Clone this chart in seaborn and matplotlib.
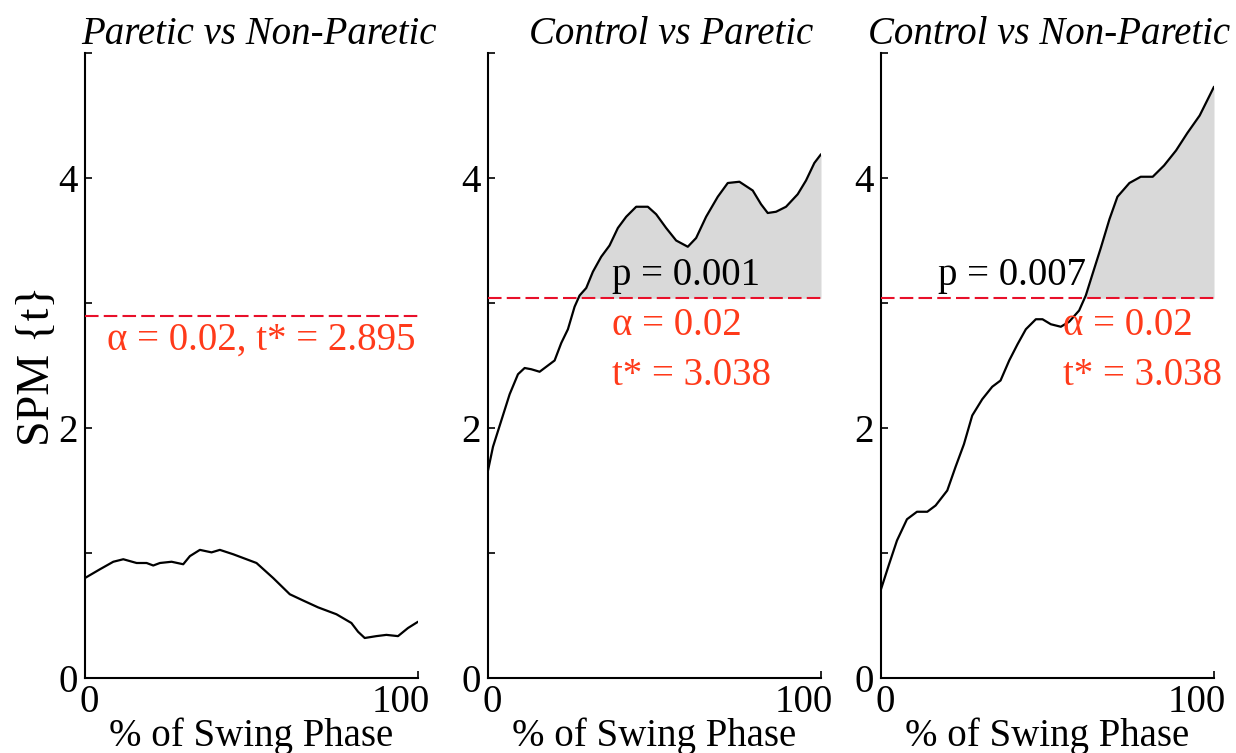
import numpy as np
import pandas as pd
import matplotlib
matplotlib.use("Agg")
import matplotlib.pyplot as plt
import matplotlib.transforms as mtransforms
import seaborn as sns

# SPM{t} curves (x = % of swing phase)
x_pvn = [0, 4.5, 8.5, 11.5, 15.5, 18.5, 20.5, 22.5, 26, 29.5, 31.5, 34.5, 38, 40.5,
         44.5, 47.5, 51.5, 56.5, 61.5, 65.5, 70, 75.5, 80, 82, 84, 87.5, 90.5, 94, 97, 100]
t_pvn = [0.80, 0.87, 0.93, 0.95, 0.92, 0.92, 0.90, 0.92, 0.93, 0.91, 0.975, 1.025, 1.005, 1.025,
         0.99, 0.96, 0.92, 0.80, 0.67, 0.62, 0.565, 0.51, 0.44, 0.37, 0.32, 0.335, 0.345, 0.335, 0.40, 0.45]

x_cvp = [0, 1.5, 4, 6.5, 9, 11, 13, 15.5, 18, 20, 22, 24, 26, 27.5, 29.5, 31.5, 34, 36.5,
         39, 41.5, 44.5, 48, 50.5, 53.5, 56.5, 60, 62.5, 65.5, 69, 72, 75.5, 79.5, 82, 84,
         86.5, 89.5, 93, 95.5, 98, 100]
t_cvp = [1.66, 1.85, 2.06, 2.27, 2.43, 2.48, 2.47, 2.45, 2.50, 2.54, 2.68, 2.79, 2.97, 3.06,
         3.12, 3.25, 3.37, 3.46, 3.60, 3.69, 3.77, 3.77, 3.71, 3.60, 3.50, 3.45, 3.52, 3.69,
         3.85, 3.96, 3.97, 3.90, 3.79, 3.72, 3.73, 3.77, 3.87, 3.98, 4.12, 4.19]

x_cvn = [0, 2.3, 4.8, 7.8, 10.8, 13.9, 16.4, 19.9, 22.4, 24.9, 27.4, 30.4, 33.4, 35.9, 38.5,
         41, 43.5, 46.5, 48.5, 51, 54, 56.5, 59.5, 61.5, 63.5, 66, 68.6, 71, 74.6, 78, 81.6,
         85, 88.6, 92, 95.7, 100]
t_cvn = [0.71, 0.90, 1.10, 1.27, 1.33, 1.33, 1.38, 1.50, 1.69, 1.87, 2.10, 2.23, 2.33, 2.38,
         2.54, 2.67, 2.79, 2.87, 2.87, 2.83, 2.81, 2.85, 2.94, 3.06, 3.23, 3.44, 3.67, 3.85,
         3.96, 4.01, 4.01, 4.10, 4.22, 4.36, 4.50, 4.73]

titles = ["Paretic vs Non-Paretic", "Control vs Paretic", "Control vs Non-Paretic"]
thresholds = [2.895, 3.038, 3.038]
p_values = [None, "p = 0.001", "p = 0.007"]

curves = [(x_pvn, t_pvn), (x_cvp, t_cvp), (x_cvn, t_cvn)]

sns.set_style("ticks")
plt.rcParams["font.family"] = ["Liberation Serif", "DejaVu Serif"]
plt.rcParams["text.color"] = "black"
plt.rcParams["axes.labelcolor"] = "black"

red_text = "#ff3a1a"
red_line = "#e8102a"
fs = 28

fig = plt.figure(figsize=(12.36, 7.53), dpi=100)
lefts = [85 / 1236, 488 / 1236, 881 / 1236]
width = 333 / 1236
bottom = 75 / 753
height = 625 / 753
title_shift = [7, 17, 2]  # px, titles sit a little right of centre

for i, ((xs, ts), title, thr, pv) in enumerate(zip(curves, titles, thresholds, p_values)):
    ax = fig.add_axes([lefts[i], bottom, width, height])
    df = pd.DataFrame({"x": xs, "t": ts})
    sns.lineplot(data=df, x="x", y="t", ax=ax, color="black", lw=1.6)

    xa = np.array(xs)
    ta = np.array(ts)
    if ta.max() > thr:
        ax.fill_between(xa, thr, ta, where=ta > thr, interpolate=True,
                        color="#d9d9d9", lw=0, zorder=0)
    ax.axhline(thr, color=red_line, lw=1.5, ls=(0, (6.5, 2.5)), zorder=3)

    if i == 0:
        ax.text(6.6, 2.70, "α = 0.02, t* = 2.895", color=red_text, fontsize=fs,
                ha="left", va="center")
        ax.set_ylabel("SPM {t}", fontsize=33, labelpad=0, color="black")
    else:
        px = 37.2 if i == 1 else 17.1
        tx = 37.2 if i == 1 else 54.6
        ax.text(px, 3.22, pv, color="black", fontsize=fs, ha="left", va="center")
        ax.text(tx, 2.82, "α = 0.02", color=red_text, fontsize=fs, ha="left", va="center")
        ax.text(tx, 2.42, "t* = 3.038", color=red_text, fontsize=fs, ha="left", va="center")
        ax.set_ylabel("")

    ax.set_xlim(0, 100)
    ax.set_ylim(0, 5)
    ax.set_xticks([0, 100])
    ax.set_xticklabels(["0", "100"])
    ax.set_yticks([0, 1, 2, 3, 4, 5])
    ax.set_yticklabels(["0", "", "2", "", "4", ""])
    ax.tick_params(direction="in", length=5, width=1.2, labelsize=fs, colors="black")
    ax.tick_params(axis="y", pad=5)
    ax.tick_params(axis="x", pad=4)
    # "100" sits slightly left of its tick, like in the original
    lab = ax.get_xticklabels()[1]
    lab.set_horizontalalignment("right")
    lab.set_transform(lab.get_transform() +
                      mtransforms.ScaledTranslation(0.12, 0, fig.dpi_scale_trans))
    lab0 = ax.get_xticklabels()[0]
    lab0.set_transform(lab0.get_transform() +
                       mtransforms.ScaledTranslation(0.04, 0, fig.dpi_scale_trans))
    ax.set_xlabel("% of Swing Phase", fontsize=fs, labelpad=-2, color="black")
    ax.set_title(title, fontsize=fs, style="italic", pad=6, color="black",
                 x=0.5 + title_shift[i] / 333)
    for side in ["top", "right"]:
        ax.spines[side].set_visible(False)
    for side in ["left", "bottom"]:
        ax.spines[side].set_linewidth(1.5)
        ax.spines[side].set_color("black")

fig.savefig("out.png", dpi=100)
